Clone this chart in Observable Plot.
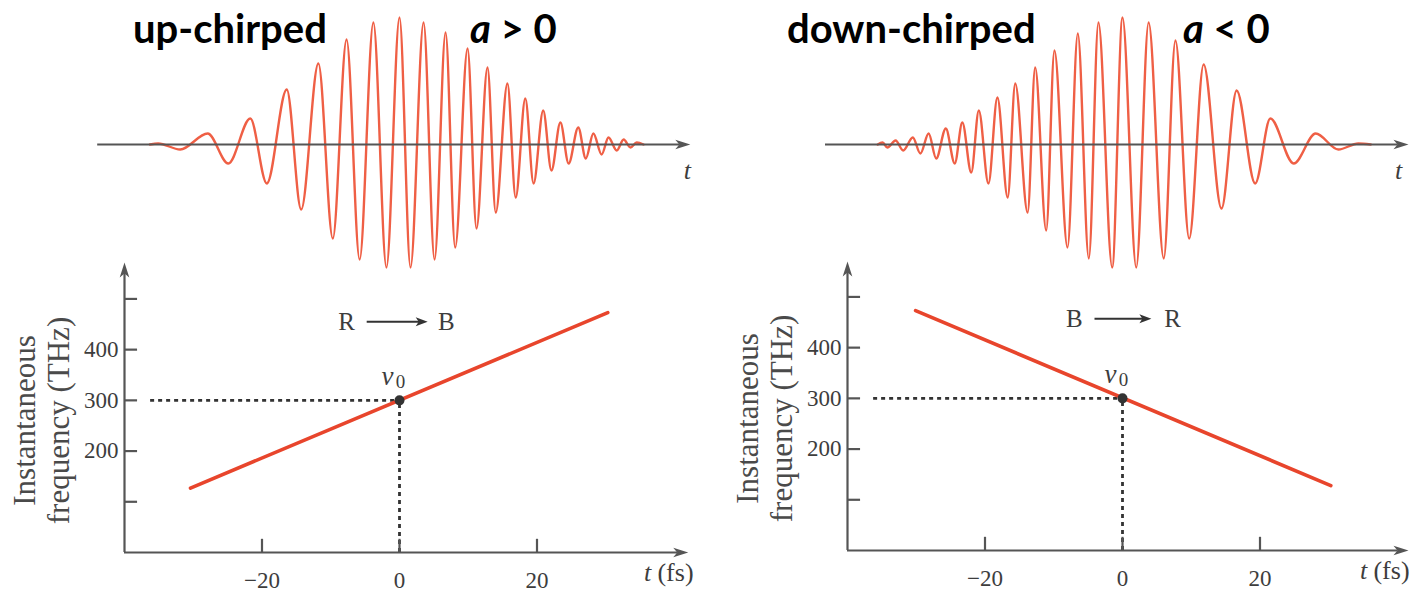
<!DOCTYPE html>
<html>
<head>
<meta charset="utf-8">
<script src="https://cdn.jsdelivr.net/npm/d3@7"></script>
<script src="https://cdn.jsdelivr.net/npm/@observablehq/plot@0.6"></script>
<style>
  html, body { margin: 0; padding: 0; background: #fff; }
  #root { position: relative; width: 1410px; height: 593px; overflow: hidden; background: #fff; }
  .layer { position: absolute; }
  .layer svg { max-width: none; display: block; }
  .title { position: absolute; font-family: Lato, "Open Sans", sans-serif; font-weight: 700; font-size: 40px; line-height: 1; color: #000; white-space: nowrap; }
  .title i { font-style: italic; }
  g[aria-label="ytick-label"] text, g[aria-label="xtick-label"] text { letter-spacing: 1.5px; }
</style>
</head>
<body>
<div id="root"></div>
<script>
// ---------- data ----------
// up-chirped pulse: extrema of the field, time in fs, amplitude in arbitrary units
const upT = [-36.3, -35.1, -31.9, -27.9, -24.9, -21.7, -19.3, -16.4, -14.3, -11.8,
             -9.7, -7.7, -5.8, -3.8, -1.9, 0, 1.6, 3.5, 5.1, 6.7,
             8.1, 9.9, 11.2, 12.8, 14.0, 15.7, 16.9, 18.3, 19.5, 20.9,
             22.1, 23.4, 24.6, 26.0, 27.1, 28.2, 29.4, 30.4, 31.6, 32.6,
             33.6, 34.5, 35.5];
const upA = [0, 1, -5, 11, -19, 26, -39, 55, -65, 81,
             -94, 105, -115, 122, -123, 127, -123, 122, -115, 112,
             -103, 96, -84, 77, -68, 61, -53, 46, -39, 34,
             -26, 22, -19, 17, -14, 11, -10, 7, -6, 5,
             -3, 2, 0];
// down-chirped pulse
const downT = [-35.6, -34.9, -34.2, -33.0, -31.9, -30.5, -29.4, -28.2, -27.1, -25.7,
               -24.4, -23.3, -22.0, -20.9, -19.5, -18.2, -16.7, -15.6, -13.8, -12.7,
               -11.1, -9.9, -8.0, -6.5, -4.9, -3.5, -1.5, 0, 2.0, 3.8,
               6.0, 7.7, 9.7, 11.8, 14.4, 16.6, 19.3, 21.5, 24.9, 28.1,
               31.4, 34.3, 36.1];
const downA = [0, 2, -3, 4, -6, 7, -9, 11, -14, 16,
               -19, 22, -28, 34, -39, 47, -53, 61, -68, 77,
               -86, 94, -103, 111, -114, 122, -123, 127, -123, 122,
               -114, 104, -94, 80, -64, 54, -39, 26, -19, 11,
               -5, 1, 0];
// instantaneous frequency (THz) vs time (fs)
const upFreqT = [-30.4, 30.3];
const upFreqF = [127, 473];
const downFreqT = [-30.1, 30.3];
const downFreqF = [473, 128];
// central frequency
const nu0T = 0;
const nu0F = 300;
// axis ticks
const xTicks = [-20, 0, 20];
const yTicks = [100, 200, 300, 400, 500];
const yTickLabels = [200, 300, 400];
const yLabel = "Instantaneous\nfrequency (THz)";

// ---------- styling ----------
const axisColor = "#555";
const textColor = "#3d3d3d";
const waveColor = "#ef5f45";
const lineColor = "#e8452c";
const serif = "Liberation Serif";

const arrowRight = { draw(c) { c.moveTo(0, 0); c.lineTo(-15, -4.8); c.lineTo(-11, 0); c.lineTo(-15, 4.8); c.closePath(); } };
const arrowUp = { draw(c) { c.moveTo(0, 0); c.lineTo(-4.8, 15); c.lineTo(0, 11); c.lineTo(4.8, 15); c.closePath(); } };
const smallArrow = { draw(c) { c.moveTo(0, 0); c.lineTo(-12, -4.5); c.lineTo(-9, 0); c.lineTo(-12, 4.5); c.closePath(); } };

const fmt = d => d < 0 ? "\u2212" + Math.abs(d) : String(d);

function upperPlot(c) {
  const wave = c.waveT.map((t, i) => ({ t, a: c.waveA[i] }));
  return Plot.plot({
    width: 705, height: 280,
    marginLeft: c.ml, marginRight: c.mr, marginTop: 0, marginBottom: 0,
    x: { domain: [-40, 40], axis: null },
    y: { domain: [-136, 144], axis: null },
    style: { background: "transparent", overflow: "visible" },
    marks: [
      Plot.line(wave, { x: "t", y: "a", curve: "monotone-x", stroke: waveColor, strokeWidth: 2.4 }),
      Plot.ruleY([0], { x1: c.upAxis[0], x2: c.upAxis[1] - 1.5, stroke: axisColor, strokeWidth: 2.2 }),
      Plot.dot([0], { x: c.upAxis[1], y: 0, symbol: arrowRight, fill: axisColor, stroke: null }),
      Plot.text(["t"], { x: c.upAxis[1], y: 0, dx: c.upTdx, dy: 26, fontFamily: serif, fontStyle: "italic", fontSize: 26, fill: textColor })
    ]
  });
}

function lowerPlot(c) {
  const freq = c.freqT.map((t, i) => ({ t, f: c.freqF[i] }));
  const nu = [{ t: nu0T, f: nu0F }];
  return Plot.plot({
    width: 705, height: 343,
    marginLeft: c.ml, marginRight: c.mr, marginTop: 18, marginBottom: 41,
    x: { domain: [-40, 40], axis: null },
    y: { domain: [0, 560], axis: null },
    style: { background: "transparent", overflow: "visible" },
    marks: [
      // dotted guides to nu0
      Plot.ruleY(nu, { x1: -36.2, x2: "t", y: "f", stroke: "#333", strokeWidth: 2.8, strokeDasharray: "4,4" }),
      Plot.ruleX(nu, { x: "t", y1: 0, y2: "f", stroke: "#333", strokeWidth: 2.8, strokeDasharray: "4,4" }),
      // axes
      Plot.ruleY([0], { x1: -40, x2: c.xEnd - 1.5, stroke: axisColor, strokeWidth: 2.2 }),
      Plot.dot([0], { x: c.xEnd, y: 0, symbol: arrowRight, fill: axisColor, stroke: null }),
      Plot.ruleX([-40], { y1: 0, y2: c.yEnd - 20, stroke: axisColor, strokeWidth: 2.2 }),
      Plot.dot([0], { x: -40, y: c.yEnd, symbol: arrowUp, fill: axisColor, stroke: null }),
      Plot.ruleY(yTicks, { x1: -40, x2: -38.1, stroke: axisColor, strokeWidth: 2.2 }),
      Plot.ruleX(xTicks, { y1: 0, y2: 26, stroke: axisColor, strokeWidth: 2.2 }),
      Plot.text(yTickLabels, { x: -40, y: d => d, dx: -6, textAnchor: "end", fontFamily: serif, fontSize: 23, fill: textColor, ariaLabel: "ytick-label" }),
      Plot.text(xTicks, { x: d => d, y: 0, dy: 28, text: fmt, textAnchor: "middle", fontFamily: serif, fontSize: 23, fill: textColor, ariaLabel: "xtick-label" }),
      Plot.text(["t"], { frameAnchor: "bottom-right", textAnchor: "middle", dx: c.tdx, dy: 28, fontFamily: serif, fontStyle: "italic", fontSize: 26, fill: textColor }),
      Plot.text(["(fs)"], { frameAnchor: "bottom-right", textAnchor: "middle", dx: c.fsdx, dy: 28, fontFamily: serif, fontSize: 26, fill: textColor }),
      Plot.text([yLabel], { frameAnchor: "left", textAnchor: "middle", lineAnchor: "middle", dx: -83, dy: 10, rotate: -90, fontFamily: serif, fontSize: 31, lineHeight: 1.08, fill: "#4a4a4a" }),
      // frequency line
      Plot.line(freq, { x: "t", y: "f", stroke: lineColor, strokeWidth: 3.6 }),
      Plot.dot(nu, { x: "t", y: "f", r: 5, fill: "#333", stroke: null }),
      Plot.text(["\u03bd"], { x: nu0T, y: nu0F, dx: -12, dy: -24, fontFamily: serif, fontStyle: "italic", fontSize: 27, fill: textColor }),
      Plot.text(["0"], { x: nu0T, y: nu0F, dx: 1, dy: -18, fontFamily: serif, fontSize: 19, fill: textColor }),
      // direction annotation
      Plot.text([c.dirFrom], { x: c.dirT[0], y: c.dirF, fontFamily: serif, fontSize: 25, fill: textColor }),
      Plot.ruleY([c.dirF], { x1: c.dirArrow[0], x2: c.dirArrow[1] - 1, stroke: "#333", strokeWidth: 2.2 }),
      Plot.dot([0], { x: c.dirArrow[1], y: c.dirF, symbol: smallArrow, fill: "#333", stroke: null }),
      Plot.text([c.dirTo], { x: c.dirT[1], y: c.dirF, fontFamily: serif, fontSize: 25, fill: textColor })
    ]
  });
}

const panels = [
  { left: 0, ml: 124, mr: 31, waveT: upT, waveA: upA, upAxis: [-43.9, 42.3], upTdx: -3,
    freqT: upFreqT, freqF: upFreqF, xEnd: 42.0, yEnd: 572, lowerTop: 250, tdx: -27, fsdx: 1,
    dirFrom: "R", dirTo: "B", dirT: [-7.7, 6.8], dirArrow: [-4.7, 4.1], dirF: 455 },
  { left: 705, ml: 142, mr: 13, waveT: downT, waveA: downA, upAxis: [-43.2, 41.6], upTdx: -10,
    freqT: downFreqT, freqF: downFreqF, xEnd: 41.6, yEnd: 570, lowerTop: 248, tdx: -34, fsdx: -6,
    dirFrom: "B", dirTo: "R", dirT: [-7.0, 7.3], dirArrow: [-4.0, 4.2], dirF: 457 }
];

const root = document.getElementById("root");
for (const c of panels) {
  const up = document.createElement("div");
  up.className = "layer";
  up.style.left = c.left + "px"; up.style.top = "0px";
  up.appendChild(upperPlot(c));
  root.appendChild(up);
  const lo = document.createElement("div");
  lo.className = "layer";
  lo.style.left = c.left + "px"; lo.style.top = c.lowerTop + "px";
  lo.appendChild(lowerPlot(c));
  root.appendChild(lo);
}

const titles = [
  { html: "up-chirped", left: 133 },
  { html: "<i>a</i> &gt; 0", left: 470 },
  { html: "down-chirped", left: 787 },
  { html: "<i>a</i> &lt; 0", left: 1183 }
];
for (const t of titles) {
  const d = document.createElement("div");
  d.className = "title";
  d.innerHTML = t.html;
  d.style.left = t.left + "px";
  d.style.top = "8px";
  root.appendChild(d);
}
</script>
</body>
</html>
